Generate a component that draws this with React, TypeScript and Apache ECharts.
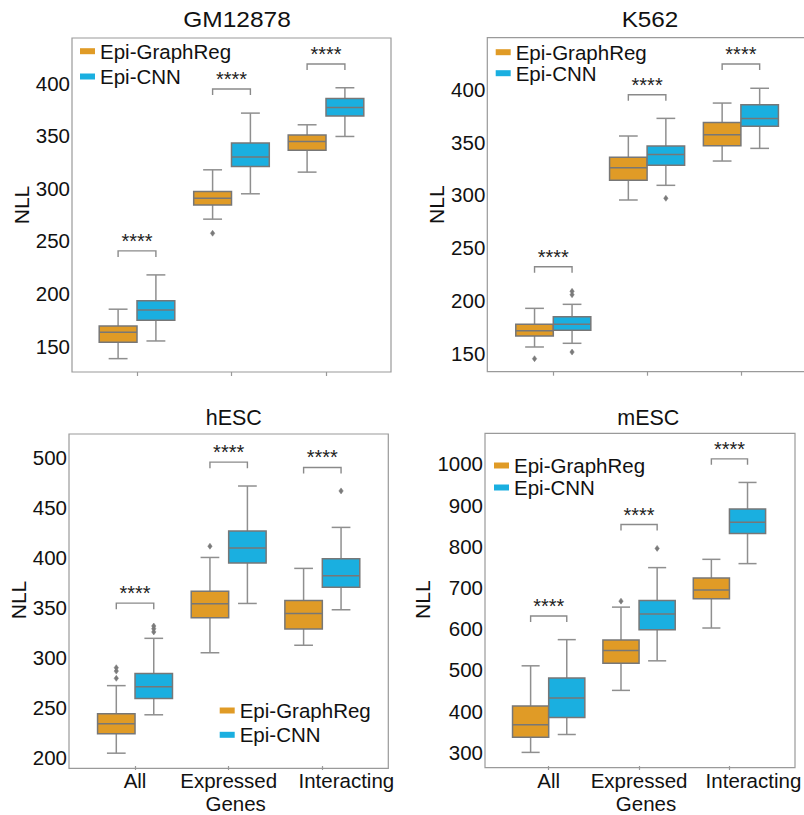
import React, { useEffect, useRef } from 'react';
import * as echarts from 'echarts';

// ---------- data ----------
const categories = ['All', 'Expressed\nGenes', 'Interacting'];
const seriesNames = ['Epi-GraphReg', 'Epi-CNN'];

// box rows: [min, q1, median, q3, max] per category
const gmGraphReg = [[138, 153.5, 163, 169, 185], [270.6, 284, 290.5, 297, 317.5], [315.3, 336.2, 344.5, 350.5, 360.3]];
const gmCNN = [[154.8, 174.5, 184.3, 193.1, 217.6], [294.7, 320.7, 329.6, 342.9, 371.4], [349.2, 368.6, 376.8, 385.4, 395.5]];
const gmOutGraphReg = [[1, 257.2]];
const gmOutCNN: number[][] = [];
const gmBrackets = [240.4, 394.3, 418.1];
const gmTicks = [150, 200, 250, 300, 350, 400];

const k562GraphReg = [[156, 166.4, 171.4, 177.5, 192.6], [295.2, 313.8, 325.8, 335.6, 355.8], [332.1, 346.6, 357, 368.7, 387]];
const k562CNN = [[159.5, 171.8, 177.5, 184.7, 196.4], [309.1, 328, 338.4, 346.3, 372.5], [344.1, 365, 372.5, 385.4, 401]];
const k562OutGraphReg = [[0, 144.9]];
const k562OutCNN = [[0, 151.2], [0, 205.5], [0, 208.7], [1, 296.8]];
const k562Brackets = [232, 394.9, 424];
const k562Ticks = [150, 200, 250, 300, 350, 400];

const hescGraphReg = [[204.6, 224.1, 234, 243.9, 272], [304.8, 339.7, 353.6, 366.2, 399.9], [312.3, 328.5, 344, 356.9, 389]];
const hescCNN = [[242.9, 259.1, 271, 284.2, 319.2], [354, 394.3, 409.4, 426.3, 471.2], [347.7, 370.2, 381.7, 398.5, 429.9]];
const hescOutGraphReg = [[0, 279.3], [0, 286.5], [0, 289.9], [1, 411.1]];
const hescOutCNN = [[0, 325.6], [0, 328.8], [0, 331.5], [2, 466.3]];
const hescBrackets = [354.3, 495, 489.7];
const hescTicks = [200, 250, 300, 350, 400, 450, 500];

const mescGraphReg = [[300, 337, 366.9, 412.7, 510], [450.4, 516.5, 546.9, 572.7, 652.4], [601.7, 672.5, 694.2, 723.2, 768.3]];
const mescCNN = [[343.4, 384.5, 432, 480.3, 573.5], [522.1, 597.6, 635.5, 668.6, 748.2], [757.9, 831, 858.3, 890.6, 954.8]];
const mescOutGraphReg = [[1, 666.9]];
const mescOutCNN = [[1, 794.8]];
const mescBrackets = [630.7, 852.7, 1012];
const mescTicks = [300, 400, 500, 600, 700, 800, 900, 1000];

// ---------- styles / layout ----------
const ORANGE = '#E09B26';
const BLUE = '#1AAFE0';
const EDGE = '#777777';
const WHISKER = '#8f8f8f';
const FRAME = '#9a9a9a';
const FONT = '"Liberation Sans", Arial, Helvetica, sans-serif';
const TEXT = '#111111';
const FS = 20.5;

const panels = [
  {
    title: 'GM12878', titleX: 237, titleY: 19.5, titleScale: 1.14,
    frame: { l: 72, t: 38, r: 391, b: 372 }, gridLeft: 89.75, band: 94.5,
    yMin: 125.3, yMax: 442.8, ticks: gmTicks, nameGap: 36,
    boxes: [gmGraphReg, gmCNN], outliers: [gmOutGraphReg, gmOutCNN], brackets: gmBrackets,
    legend: { left: 80, top: 40.7, gap: 4.3 }, showX: false,
  },
  {
    title: 'K562', titleX: 650, titleY: 19.5, titleScale: 1.13,
    frame: { l: 487.3, t: 37.7, r: 807, b: 371.7 }, gridLeft: 506.4, band: 93.8,
    yMin: 132.6, yMax: 448.9, ticks: k562Ticks, nameGap: 36,
    boxes: [k562GraphReg, k562CNN], outliers: [k562OutGraphReg, k562OutCNN], brackets: k562Brackets,
    legend: { left: 495.7, top: 41.7, gap: 0 }, showX: false,
  },
  {
    title: 'hESC', titleX: 233.8, titleY: 417.5, titleScale: 1,
    frame: { l: 69, t: 434, r: 388.3, b: 768.3 }, gridLeft: 88.2, band: 93.65,
    yMin: 191.8, yMax: 523.1, ticks: hescTicks, nameGap: 36,
    boxes: [hescGraphReg, hescCNN], outliers: [hescOutGraphReg, hescOutCNN], brackets: hescBrackets,
    legend: { left: 219.7, top: 700, gap: 3.3 }, showX: true,
  },
  {
    title: 'mESC', titleX: 648.3, titleY: 417.5, titleScale: 1,
    frame: { l: 485, t: 433.3, r: 795, b: 767.7 }, gridLeft: 503.5, band: 91,
    yMin: 267, yMax: 1074, ticks: mescTicks, nameGap: 46,
    boxes: [mescGraphReg, mescCNN], outliers: [mescOutGraphReg, mescOutCNN], brackets: mescBrackets,
    legend: { left: 494, top: 455, gap: 1 }, showX: true,
  },
];

const HUE_OFFSET = [-0.2, 0.2];

function boxRender(hue: number, fill: string) {
  return (params: any, api: any) => {
    const cat = api.value(0);
    const band = api.size([1, 0])[0];
    const w = band * 0.4;
    const cx = api.coord([cat, api.value(3)])[0] + HUE_OFFSET[hue] * band;
    const y = (i: number) => api.coord([cat, api.value(i)])[1];
    const yMin = y(1), yQ1 = y(2), yMed = y(3), yQ3 = y(4), yMax = y(5);
    const ws = { stroke: WHISKER, lineWidth: 1.5 };
    return {
      type: 'group',
      children: [
        { type: 'line', shape: { x1: cx, y1: yQ1, x2: cx, y2: yMin }, style: ws },
        { type: 'line', shape: { x1: cx, y1: yQ3, x2: cx, y2: yMax }, style: ws },
        { type: 'line', shape: { x1: cx - w / 4, y1: yMin, x2: cx + w / 4, y2: yMin }, style: ws },
        { type: 'line', shape: { x1: cx - w / 4, y1: yMax, x2: cx + w / 4, y2: yMax }, style: ws },
        { type: 'rect', shape: { x: cx - w / 2, y: yQ3, width: w, height: yQ1 - yQ3 }, style: { fill, stroke: EDGE, lineWidth: 1.5 } },
        { type: 'line', shape: { x1: cx - w / 2, y1: yMed, x2: cx + w / 2, y2: yMed }, style: { stroke: EDGE, lineWidth: 1.5 } },
      ],
    };
  };
}

function outlierRender(hue: number) {
  return (params: any, api: any) => {
    const cat = api.value(0);
    const band = api.size([1, 0])[0];
    const p = api.coord([cat, api.value(1)]);
    const cx = p[0] + HUE_OFFSET[hue] * band;
    const cy = p[1];
    return {
      type: 'polygon',
      shape: { points: [[cx, cy - 3], [cx + 2.2, cy], [cx, cy + 3], [cx - 2.2, cy]] },
      style: { fill: '#7a7a7a', stroke: '#7a7a7a', lineWidth: 0.5 },
    };
  };
}

function bracketRender(params: any, api: any) {
  const cat = api.value(0);
  const band = api.size([1, 0])[0];
  const p = api.coord([cat, api.value(1)]);
  const xl = p[0] - 0.2 * band;
  const xr = p[0] + 0.2 * band;
  const yb = p[1];
  return {
    type: 'group',
    children: [
      {
        type: 'polyline',
        shape: { points: [[xl, yb + 6], [xl, yb], [xr, yb], [xr, yb + 6]] },
        style: { stroke: '#8a8a8a', lineWidth: 1.4, fill: 'none' },
      },
      {
        type: 'text',
        x: p[0],
        y: yb - 10,
        style: {
          text: '****', fontSize: 20, fontFamily: FONT, fill: '#222',
          align: 'center', verticalAlign: 'middle', textAlign: 'center', textVerticalAlign: 'middle',
        },
      },
    ],
  };
}

export default function App() {
  const ref = useRef<HTMLDivElement>(null);
  useEffect(() => {
    if (!ref.current) return;
    const chart = echarts.init(ref.current, null, { renderer: 'svg' });

    const grid: any[] = [];
    const xAxis: any[] = [];
    const yAxis: any[] = [];
    const series: any[] = [];
    const legend: any[] = [];
    const graphic: any[] = [];

    panels.forEach((pn, i) => {
      const f = pn.frame;
      grid.push({ left: pn.gridLeft, top: f.t, width: pn.band * 3, height: f.b - f.t, containLabel: false });
      xAxis.push({
        type: 'category', gridIndex: i, data: categories,
        axisLine: { show: false },
        axisTick: { show: true, alignWithLabel: true, interval: 0, length: 4, lineStyle: { color: '#999', width: 1.2 } },
        splitLine: { show: false },
        axisLabel: pn.showX
          ? {
              show: true, interval: 0, hideOverlap: false, fontSize: FS, fontFamily: FONT, color: TEXT, lineHeight: 23, margin: 3,
              formatter: (v: string) =>
                v === 'Interacting' ? '{s|Interacting}' : v === 'Expressed\nGenes' ? '{e|Expressed}\n{g|Genes}' : v,
              rich: {
                s: { padding: [0, 0, 0, 48], fontSize: FS, fontFamily: FONT, color: TEXT, lineHeight: 23 },
                e: { fontSize: FS, fontFamily: FONT, color: TEXT, lineHeight: 23 },
                g: { padding: [0, 0, 0, 14], fontSize: FS, fontFamily: FONT, color: TEXT, lineHeight: 23 },
              },
            }
          : { show: false },
      });
      yAxis.push({
        type: 'value', gridIndex: i, min: pn.yMin, max: pn.yMax,
        offset: pn.gridLeft - f.l,
        name: 'NLL', nameLocation: 'middle', nameGap: pn.nameGap,
        nameTextStyle: { fontSize: 21, fontFamily: FONT, color: TEXT },
        axisLine: { show: false }, axisTick: { show: false }, splitLine: { show: false },
        axisLabel: {
          customValues: pn.ticks, fontSize: FS, fontFamily: FONT, color: TEXT, margin: 2,
          formatter: (v: number) => String(v),
        },
      });

      [ORANGE, BLUE].forEach((color, h) => {
        series.push({
          type: 'custom', name: seriesNames[h], xAxisIndex: i, yAxisIndex: i,
          itemStyle: { color },
          encode: { x: 0, y: [1, 2, 3, 4, 5] },
          data: pn.boxes[h].map((row, c) => [c, ...row]),
          renderItem: boxRender(h, color),
          z: 3,
        });
        series.push({
          type: 'custom', name: seriesNames[h], xAxisIndex: i, yAxisIndex: i,
          itemStyle: { color },
          encode: { x: 0, y: 1 },
          data: pn.outliers[h],
          renderItem: outlierRender(h),
          z: 3,
        });
      });
      series.push({
        type: 'custom', name: 'significance', xAxisIndex: i, yAxisIndex: i,
        encode: { x: 0, y: 1 },
        data: pn.brackets.map((v, c) => [c, v]),
        renderItem: bracketRender,
        z: 3,
      });

      legend.push({
        orient: 'vertical', left: pn.legend.left, top: pn.legend.top, padding: 0,
        itemGap: pn.legend.gap, itemWidth: 15, itemHeight: 6,
        textStyle: { fontSize: FS, fontFamily: FONT, color: TEXT, lineHeight: 20 },
        data: [
          { name: seriesNames[0], icon: 'rect', itemStyle: { color: ORANGE, borderWidth: 0 } },
          { name: seriesNames[1], icon: 'rect', itemStyle: { color: BLUE, borderWidth: 0 } },
        ],
      });

      graphic.push({
        type: 'rect', z: 0, silent: true,
        shape: { x: f.l, y: f.t, width: f.r - f.l, height: f.b - f.t },
        style: { fill: 'none', stroke: FRAME, lineWidth: 1.2 },
      });
      graphic.push({
        type: 'text', x: pn.titleX, y: pn.titleY, scaleX: pn.titleScale, z: 5,
        style: {
          text: pn.title, fontSize: 21.5, fontFamily: FONT, fill: TEXT,
          align: 'center', verticalAlign: 'middle', textAlign: 'center', textVerticalAlign: 'middle',
        },
      });
    });

    chart.setOption({
      animation: false,
      backgroundColor: '#ffffff',
      grid, xAxis, yAxis, series, legend, graphic,
    });
    return () => chart.dispose();
  }, []);

  return <div ref={ref} style={{ position: 'absolute', left: 0, top: 0, width: 804, height: 815 }} />;
}
